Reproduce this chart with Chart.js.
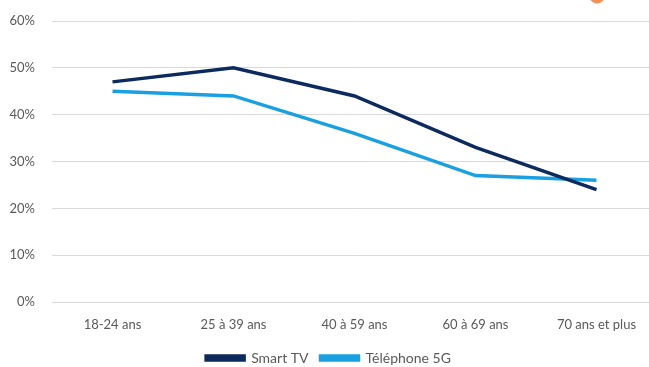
<!DOCTYPE html>
<html lang="fr">
<head>
<meta charset="utf-8">
<script src="https://cdn.jsdelivr.net/npm/chart.js@4.4.1/dist/chart.umd.min.js"></script>
<style>
  html, body { margin: 0; padding: 0; background: #ffffff; overflow: hidden; }
  /* zone de tracé légèrement plus grande que la fenêtre : la légende garde ses marges */
  #wrap { position: relative; width: 665px; height: 375px; }
</style>
</head>
<body>
<div id="wrap"><canvas id="chart"></canvas></div>
<script>
// Tranches d'âge et taux d'équipement (%)
const ageGroups = ["18-24 ans", "25 à 39 ans", "40 à 59 ans", "60 à 69 ans", "70 ans et plus"];
const smartTV = [47, 50, 44, 33, 24];
const telephone5G = [45, 44, 36, 27, 26];
const seriesNames = ["Smart TV", "Téléphone 5G"];
const yTicks = [0, 10, 20, 30, 40, 50, 60];

const NAVY = "#0c2a5e";
const SKY = "#1aa0e0";
const TEXT = "#595959";
const FONT = "Lato, 'Open Sans', sans-serif";

// Petite pastille orange en haut à droite
const badge = {
  id: "badge",
  afterDraw(chart) {
    const ctx = chart.ctx;
    ctx.save();
    ctx.fillStyle = "#f5905a";
    ctx.beginPath();
    ctx.arc(597, -4, 7.5, 0, Math.PI * 2);
    ctx.fill();
    ctx.restore();
  }
};

new Chart(document.getElementById("chart"), {
  type: "line",
  data: {
    labels: ageGroups,
    datasets: [
      { label: seriesNames[0], data: smartTV, borderColor: NAVY, backgroundColor: NAVY, borderWidth: 3.5, pointRadius: 0, tension: 0 },
      { label: seriesNames[1], data: telephone5G, borderColor: SKY, backgroundColor: SKY, borderWidth: 3.5, pointRadius: 0, tension: 0 }
    ]
  },
  options: {
    responsive: true,
    maintainAspectRatio: false,
    animation: false,
    layout: { padding: { top: 21, left: 0, right: 8, bottom: 0 } },
    plugins: {
      legend: {
        position: "bottom",
        labels: { boxWidth: 38, boxHeight: 4, padding: 12, color: TEXT, font: { family: FONT, size: 14 } }
      },
      tooltip: { enabled: false }
    },
    scales: {
      x: {
        offset: true,
        grid: { display: false, drawTicks: false },
        border: { display: false },
        ticks: { color: TEXT, font: { family: FONT, size: 13 }, padding: 15, maxRotation: 0 },
        afterFit(s) { s.height = 37; }
      },
      y: {
        min: 0, max: 60,
        afterBuildTicks(s) { s.ticks = yTicks.map(v => ({ value: v })); },
        grid: { color: "#d9d9d9", lineWidth: 1, drawTicks: false },
        border: { display: false },
        ticks: { color: TEXT, font: { family: FONT, size: 13 }, padding: 17, callback: v => v + "%" },
        afterFit(s) {
          s.width = 52;
          s.paddingTop = 8;
          s.paddingBottom = 8;
        }
      }
    }
  },
  plugins: [badge]
});
</script>
</body>
</html>
